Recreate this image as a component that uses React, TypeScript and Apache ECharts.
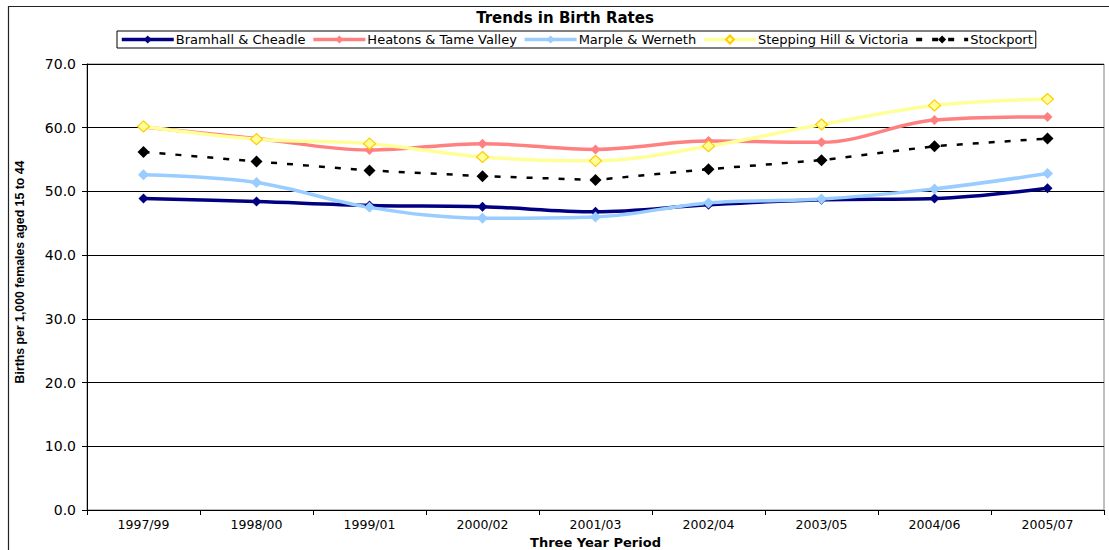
import React, { useEffect, useRef } from "react";
import * as echarts from "echarts";

const categories = ["1997/99", "1998/00", "1999/01", "2000/02", "2001/03", "2002/04", "2003/05", "2004/06", "2005/07"];
const bramhall = [48.9, 48.4, 47.8, 47.6, 46.8, 47.9, 48.7, 48.9, 50.5];
const heatons = [60.1, 58.3, 56.5, 57.5, 56.6, 57.9, 57.7, 61.2, 61.7];
const marple = [52.6, 51.4, 47.5, 45.8, 46.0, 48.2, 48.8, 50.4, 52.8];
const stepping = [60.2, 58.2, 57.5, 55.4, 54.8, 57.1, 60.5, 63.5, 64.5];
const stockport = [56.2, 54.7, 53.3, 52.4, 51.8, 53.5, 54.9, 57.1, 58.3];
const yTicks = [0, 10, 20, 30, 40, 50, 60, 70];

const FONT = "DejaVu Sans";

export default function App() {
  const ref = useRef<HTMLDivElement>(null);
  useEffect(() => {
    if (!ref.current) return;
    const chart = echarts.init(ref.current, null, { renderer: "svg" });
    const mk = (name: string, data: number[], color: string, width: number, symColor: string, symBorder: string, size: number[], dashed = false, smooth: number | boolean = 0.35) => ({
      name,
      type: "line",
      data,
      smooth,
      symbol: "diamond",
      symbolSize: size,
      showSymbol: true,
      lineStyle: { color, width, type: dashed ? [6, 10] : "solid" },
      itemStyle: { color: symColor, borderColor: symBorder, borderWidth: symBorder === symColor ? 0 : 1.2 },
      emphasis: { disabled: true },
    });
    chart.setOption({
      animation: false,
      graphic: [
        { type: "rect", z: -10, shape: { x: 8.5, y: 6.5, width: 1200, height: 600 }, style: { fill: "none", stroke: "#222", lineWidth: 1.2 } },
        { type: "text", x: 565, y: 18, style: { text: "Trends in Birth Rates", font: `bold 15px "${FONT}"`, fill: "#000", align: "center", verticalAlign: "middle" } },
        { type: "text", x: 20, y: 272, rotation: Math.PI / 2, style: { text: "Births per 1,000 females aged 15 to 44", font: 'bold 12.3px "Liberation Sans"', fill: "#000", align: "center", verticalAlign: "middle" } },
      ],
      legend: {
        left: 117,
        top: 31,
        itemWidth: 52,
        itemHeight: 10,
        itemGap: 6,
        padding: [2, 3],
        borderColor: "#000",
        borderWidth: 1,
        lineStyle: { width: 3.5 },
        textStyle: { fontFamily: FONT, fontSize: 13, color: "#000", padding: [0, 0, 0, -3] },
        data: ["Bramhall & Cheadle", "Heatons & Tame Valley", "Marple & Werneth", "Stepping Hill & Victoria", "Stockport"],
      },
      grid: { left: 87, right: 5, top: 64, bottom: 40, outerBoundsMode: "none", containLabel: false, show: true, borderColor: "#808080", borderWidth: 1, backgroundColor: "transparent" },
      xAxis: {
        type: "category",
        data: categories,
        boundaryGap: true,
        axisLine: { lineStyle: { color: "#000", width: 1 } },
        axisTick: { show: true, inside: false, length: 5, lineStyle: { color: "#000" } },
        axisLabel: { fontFamily: FONT, fontSize: 12.5, color: "#000", margin: 8 },
        name: "Three Year Period",
        nameLocation: "middle",
        nameGap: 22,
        nameTextStyle: { fontFamily: FONT, fontWeight: "bold", fontSize: 13, lineHeight: 13, color: "#000" },
      },
      yAxis: {
        type: "value",
        min: yTicks[0],
        max: yTicks[yTicks.length - 1],
        interval: 10,
        axisLine: { show: true, lineStyle: { color: "#000", width: 1 } },
        axisTick: { show: true, inside: false, length: 5, lineStyle: { color: "#000" } },
        axisLabel: { fontFamily: FONT, fontSize: 14, color: "#000", margin: 11, formatter: (v: number) => v.toFixed(1) },
        splitLine: { show: true, lineStyle: { color: "#000", width: 1 } },
      },
      series: [
        mk("Bramhall & Cheadle", bramhall, "#000080", 3.5, "#000080", "#000080", [10, 10]),
        mk("Heatons & Tame Valley", heatons, "#FF8080", 3.5, "#FF8080", "#FF8080", [10, 10]),
        mk("Marple & Werneth", marple, "#99CCFF", 3.5, "#99CCFF", "#99CCFF", [11, 11]),
        mk("Stepping Hill & Victoria", stepping, "#FFFF99", 3.5, "#FFFF99", "#FFCC00", [12, 11]),
        mk("Stockport", stockport, "#000", 2.5, "#000", "#000", [12, 12], true, false),
      ],
    });
    return () => chart.dispose();
  }, []);
  return <div ref={ref} style={{ position: "absolute", left: 0, top: 0, width: 1109, height: 550 }} />;
}
